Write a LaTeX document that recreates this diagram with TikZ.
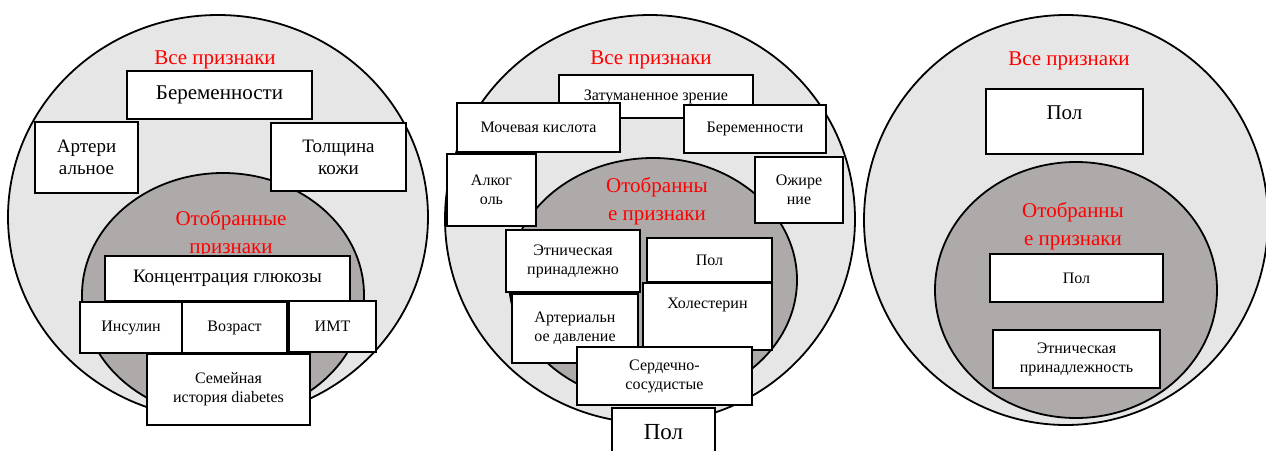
\documentclass[tikz,border=0pt]{standalone}
\usepackage{fontspec}
\setmainfont{Liberation Serif}
\definecolor{outerfill}{RGB}{230,230,230}
\definecolor{innerfill}{RGB}{174,170,170}
\begin{document}
\begin{tikzpicture}[x=1pt,y=-1pt,
        allset/.style={draw=black,line width=1.8pt,fill=outerfill},
        selset/.style={draw=black,line width=1.8pt,fill=innerfill},
        featbox/.style={draw=black,line width=2.4pt,fill=white,inner sep=0pt,align=center},
        redtitle/.style={text=red,align=center,inner sep=0pt,font=\fontsize{21}{28}\selectfont},
        big/.style={font=\fontsize{21}{24}\selectfont},
        mid/.style={font=\fontsize{19}{22}\selectfont},
        small/.style={font=\fontsize{16}{19}\selectfont}]
            \useasboundingbox (0,0) rectangle (1266,450);
            \fill[white] (0,0) rectangle (1266,450);
            % define point
            \coordinate (L)  at (218,217);
            \coordinate (Li) at (223,295);
            \coordinate (M)  at (650,219);
            \coordinate (Mi) at (653,280);
            \coordinate (R)  at (1066,220);
            \coordinate (Ri) at (1076,290);
            % circles
            \draw[allset] (L) ellipse [x radius=210pt, y radius=202pt];
            \draw[selset] (Li) ellipse [x radius=141pt, y radius=122pt];
            \draw[allset] (M) ellipse [x radius=205pt, y radius=204pt];
            \draw[selset] (Mi) ellipse [x radius=144pt, y radius=122pt];
            \draw[allset] (R) ellipse [x radius=202pt, y radius=205pt];
            \draw[selset] (Ri) ellipse [x radius=141pt, y radius=128pt];
            % left
            \node[redtitle] (allL) at (215,60) {Все признаки};
            \begin{scope}
                \clip (100,150) rectangle (360,253);
                \node[redtitle] (selL) at (231,234) {Отобранные\\признаки};
            \end{scope}
            \node[featbox,big,minimum width=185pt,minimum height=48pt] (bL1) at (219.5,95) {Беременности};
            \node[featbox,mid,minimum width=103pt,minimum height=71pt] (bL2) at (86.5,157.5) {Артери\\альное};
            \node[featbox,mid,minimum width=135pt,minimum height=68pt] (bL3) at (338.5,157) {Толщина\\кожи};
            \node[featbox,mid,minimum width=245pt,minimum height=45pt] (bL4) at (227.5,278.5) {Концентрация глюкозы};
            \node[featbox,small,minimum width=102pt,minimum height=51pt] (bL5) at (131,327.5) {Инсулин};
            \node[featbox,small,minimum width=105pt,minimum height=51pt] (bL6) at (234.5,327.5) {Возраст};
            \node[featbox,small,minimum width=87pt,minimum height=51pt] (bL7) at (332.5,326.5) {ИМТ};
            \node[featbox,small,minimum width=163pt,minimum height=71pt] (bL8) at (228.5,389.5) {Семейная\\история diabetes};
            % middle
            \node[redtitle] (allM) at (651,60) {Все признаки};
            \node[redtitle] (selM) at (657,201.5) {Отобранны\\е признаки};
            \node[featbox,small,minimum width=194pt,minimum height=43pt] (bM1) at (656,96.5) {Затуманенное зрение};
            \node[featbox,small,minimum width=163pt,minimum height=49pt] (bM2) at (538.5,127.5) {Мочевая кислота};
            \node[featbox,small,minimum width=142pt,minimum height=48pt] (bM3) at (755,129) {Беременности};
            \node[featbox,small,minimum width=89pt,minimum height=72pt] (bM4) at (491.5,190) {Алког\\оль};
            \node[featbox,small,minimum width=88pt,minimum height=66pt] (bM5) at (799,190) {Ожире\\ние};
            \node[featbox,small,minimum width=134pt,minimum height=62pt] (bM6) at (573,261) {Этническая\\принадлежно};
            \node[featbox,small,minimum width=125pt,minimum height=44pt] (bM7) at (709.5,260) {Пол};
            \node[featbox,small,text depth=26pt,minimum width=129pt,minimum height=67pt] (bM9) at (707.5,316.5) {Холестерин};
            \node[featbox,small,minimum width=126pt,minimum height=69pt] (bM8) at (575,328.5) {Артериальн\\ое давление};
            \node[featbox,small,minimum width=175pt,minimum height=58pt] (bM10) at (664.5,376) {Сердечно-\\сосудистые};
            \node[featbox,font=\fontsize{23}{26}\selectfont,minimum width=103pt,minimum height=48pt] (bM11) at (663.5,432) {Пол};
            % right
            \node[redtitle] (allR) at (1069,61) {Все признаки};
            \node[redtitle] (selR) at (1073,226) {Отобранны\\е признаки};
            \node[featbox,big,text depth=17pt,minimum width=157pt,minimum height=65pt] (bR1) at (1064.5,121.5) {Пол};
            \node[featbox,small,minimum width=173pt,minimum height=48pt] (bR2) at (1076.5,278) {Пол};
            \node[featbox,small,minimum width=167pt,minimum height=58pt] (bR3) at (1076.5,359) {Этническая\\принадлежность};
        \end{tikzpicture}
\end{document}
